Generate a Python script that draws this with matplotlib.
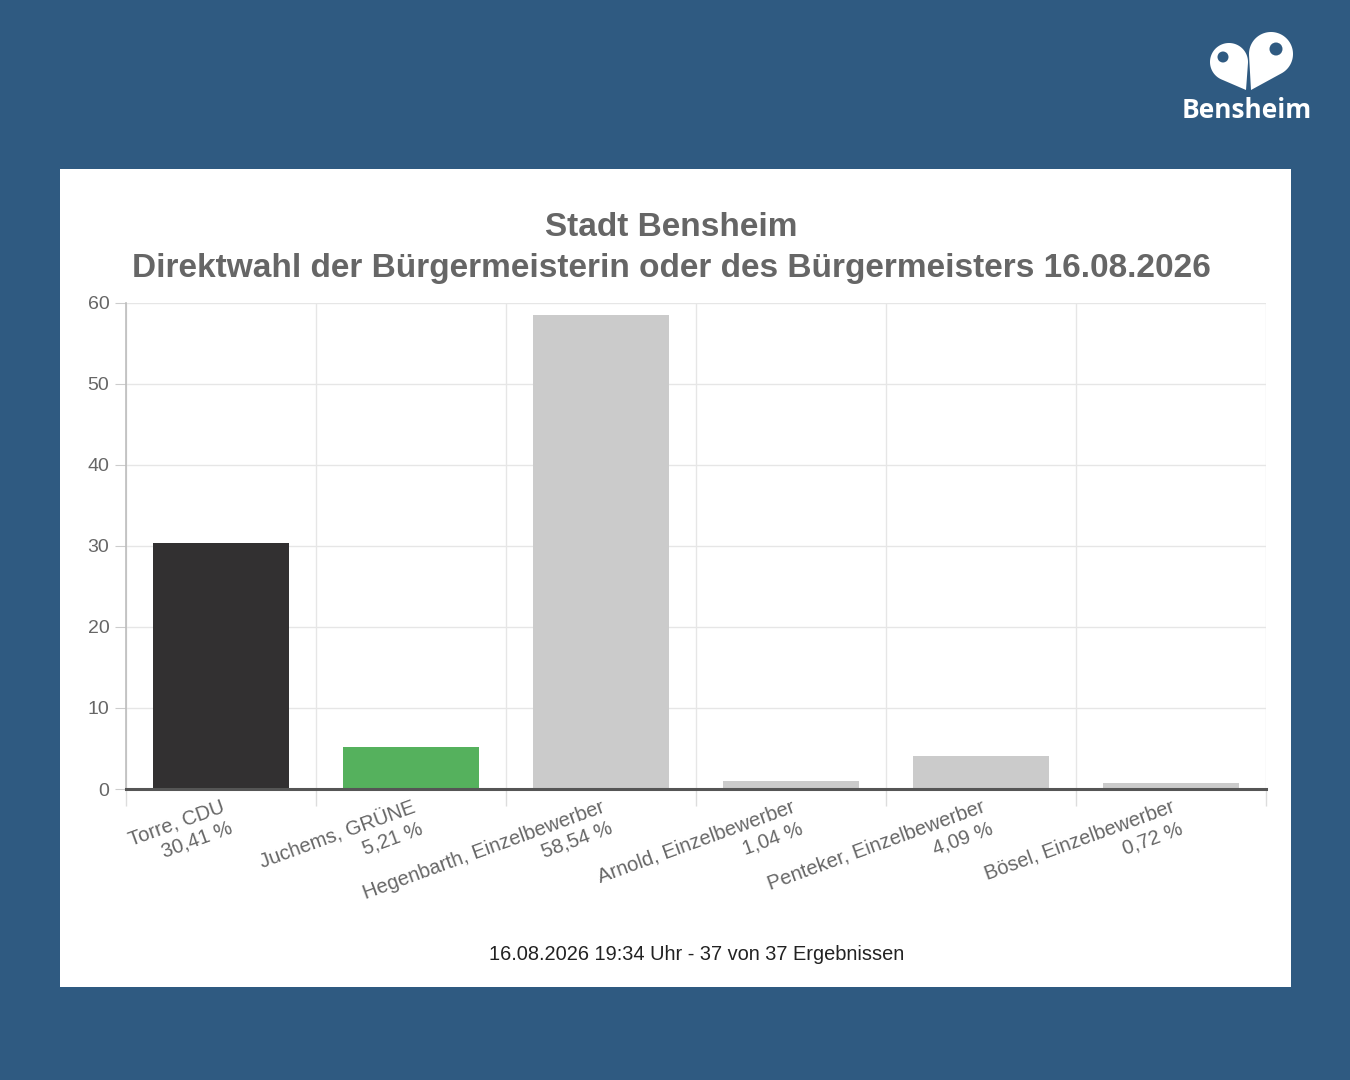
import matplotlib
matplotlib.use("Agg")
import matplotlib.pyplot as plt
from matplotlib.patches import Rectangle, Polygon, Circle
import numpy as np

# Ergebnisse Direktwahl
candidates = ["Torre, CDU", "Juchems, GRÜNE", "Hegenbarth, Einzelbewerber",
              "Arnold, Einzelbewerber", "Penteker, Einzelbewerber", "Bösel, Einzelbewerber"]
shares = [30.41, 5.21, 58.54, 1.04, 4.09, 0.72]
bar_colors = ["#323031", "#55b15d", "#cbcbcb", "#cbcbcb", "#cbcbcb", "#cbcbcb"]
y_ticks = [0, 10, 20, 30, 40, 50, 60]

title = "Stadt Bensheim\nDirektwahl der Bürgermeisterin oder des Bürgermeisters 16.08.2026"
footer = "16.08.2026 19:34 Uhr - 37 von 37 Ergebnissen"

bg_blue = "#2f5a81"
W, H = 1350, 1080

plt.rcParams["font.family"] = ["Liberation Sans", "DejaVu Sans"]

fig = plt.figure(figsize=(W / 100, H / 100), dpi=100, facecolor=bg_blue)

# overlay in pixel coords for panel and logo
bg = fig.add_axes([0, 0, 1, 1])
bg.set_xlim(0, W)
bg.set_ylim(H, 0)
bg.axis("off")
bg.add_patch(Rectangle((60, 169), 1231, 818, facecolor="white", edgecolor="none"))


def teardrop(c, r, tip):
    c = np.array(c, float)
    tip = np.array(tip, float)
    d = np.hypot(*(tip - c))
    th = np.arctan2(tip[1] - c[1], tip[0] - c[0])
    a = np.arccos(r / d)
    ang = np.linspace(th + a, th - a + 2 * np.pi, 80)
    pts = np.column_stack([c[0] + r * np.cos(ang), c[1] + r * np.sin(ang)])
    return np.vstack([pts, tip])


bg.add_patch(Polygon(teardrop((1229, 62), 19, (1246, 90)), closed=True,
                     facecolor="white", edgecolor="none"))
bg.add_patch(Polygon(teardrop((1271, 54), 22, (1251, 90)), closed=True,
                     facecolor="white", edgecolor="none"))
bg.add_patch(Circle((1223, 57), 5.5, facecolor=bg_blue, edgecolor="none"))
bg.add_patch(Circle((1276, 49), 6.5, facecolor=bg_blue, edgecolor="none"))
bg.text(1247, 111, "Bensheim", color="white", fontsize=19, fontweight="bold",
        family=["Open Sans", "DejaVu Sans"], ha="center", va="center")

bg.text(671, 248, title, color="#666666", fontsize=24, fontweight="bold",
        ha="center", va="center", linespacing=1.4)
bg.text(697, 955, footer, color="#222222", fontsize=14.4, ha="center", va="center")

# main chart
ax = fig.add_axes([126 / W, 1 - 789 / H, 1140 / W, 486 / H])
ax.set_facecolor("none")
x = np.arange(len(candidates))
ax.bar(x, shares, width=0.716, color=bar_colors, zorder=2)

ax.set_xlim(-0.5, len(candidates) - 0.5)
ax.set_ylim(0, 60)
ax.set_yticks(y_ticks)
ax.set_yticklabels([str(v) for v in y_ticks])

labels = ["{}\n{} %".format(c, ("%.2f" % s).replace(".", ",")) for c, s in zip(candidates, shares)]
ax.set_xticks(x)
ax.set_xticklabels(labels)
ax.set_xticks(np.arange(-0.5, len(candidates)), minor=True)

for sp in ["top", "right"]:
    ax.spines[sp].set_visible(False)
ax.spines["left"].set_color("#bdbdbd")
ax.spines["left"].set_linewidth(1.2)
ax.spines["bottom"].set_color("#555555")
ax.spines["bottom"].set_linewidth(2.2)
ax.spines["bottom"].set_zorder(3)

ax.grid(True, axis="y", color="#e6e6e6", linewidth=1, zorder=0)
ax.grid(True, axis="x", which="minor", color="#e6e6e6", linewidth=1, zorder=0)
ax.grid(False, axis="x", which="major")

ax.tick_params(axis="y", length=8, color="#cccccc", labelcolor="#666666",
               labelsize=14, pad=4)
ax.tick_params(axis="x", which="major", length=0, labelcolor="#666666",
               labelsize=14.5, pad=6)
ax.tick_params(axis="x", which="minor", length=12, color="#dddddd", width=1)

for lab in ax.get_xticklabels():
    lab.set_rotation(20)
    lab.set_ha("right")
    lab.set_va("top")
    lab.set_rotation_mode("anchor")
    lab.set_multialignment("right")
    lab.set_linespacing(1.25)

fig.savefig("out.png", dpi=100, facecolor=bg_blue)
